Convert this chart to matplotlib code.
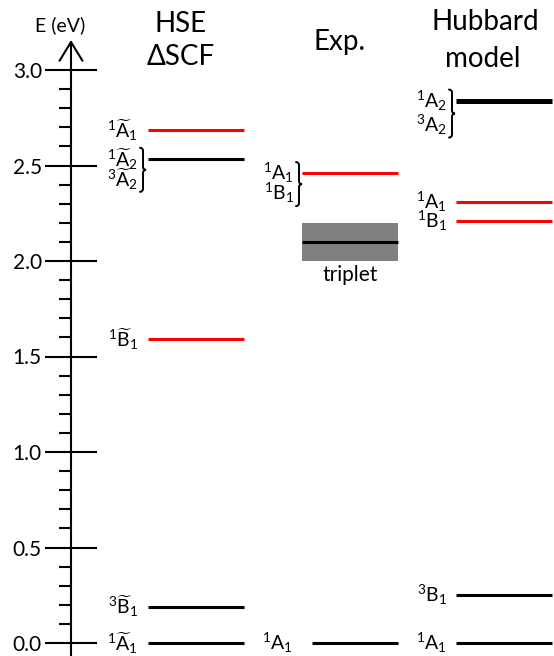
import matplotlib
matplotlib.use('Agg')
import matplotlib.pyplot as plt
from matplotlib import transforms
from matplotlib.patches import Rectangle, PathPatch
from matplotlib.path import Path
import numpy as np

plt.rcParams['font.family'] = ['Lato', 'DejaVu Sans']
plt.rcParams['mathtext.fontset'] = 'custom'
plt.rcParams['mathtext.rm'] = 'Lato'
plt.rcParams['mathtext.it'] = 'Lato:italic'
plt.rcParams['mathtext.bf'] = 'Lato:bold'

# level energies (eV)
hse_levels = [0.0, 0.19, 1.59, 2.535, 2.685]
hse_colors = ['black', 'black', 'red', 'black', 'red']
hse_labels = [[r'${}^{1}\widetilde{\mathrm{A}}_{1}$'],
              [r'${}^{3}\widetilde{\mathrm{B}}_{1}$'],
              [r'${}^{1}\widetilde{\mathrm{B}}_{1}$'],
              [r'${}^{1}\widetilde{\mathrm{A}}_{2}$', r'${}^{3}\widetilde{\mathrm{A}}_{2}$'],
              [r'${}^{1}\widetilde{\mathrm{A}}_{1}$']]

exp_levels = [0.0, 2.46]
exp_colors = ['black', 'red']
exp_labels = [[r'${}^{1}\mathrm{A}_{1}$'],
              [r'${}^{1}\mathrm{A}_{1}$', r'${}^{1}\mathrm{B}_{1}$']]
triplet_center = 2.10
triplet_range = (2.00, 2.20)

hub_levels = [0.0, 0.25, 2.21, 2.31, 2.84]
hub_colors = ['black', 'black', 'red', 'red', 'black']
hub_widths = [2.2, 2.2, 2.2, 2.2, 3.6]
hub_labels = [[r'${}^{1}\mathrm{A}_{1}$'],
              [r'${}^{3}\mathrm{B}_{1}$'],
              [r'${}^{1}\mathrm{B}_{1}$'],
              [r'${}^{1}\mathrm{A}_{1}$'],
              [r'${}^{1}\mathrm{A}_{2}$', r'${}^{3}\mathrm{A}_{2}$']]

W, H = 554, 656
ppe = 191.0  # pixels per eV
top = 3.0 + 70 / ppe  # y value at top edge of the figure
fig = plt.figure(figsize=(W / 100, H / 100), dpi=100)
ax = fig.add_axes([0, 0, 1, 1])
ax.set_xlim(0, W)
ax.set_ylim(-13 / ppe, top)

# axis
for s in ['top', 'right', 'bottom']:
    ax.spines[s].set_visible(False)
ax.spines['left'].set_position(('data', 71))
ax.spines['left'].set_linewidth(1.5)
ax.spines['left'].set_bounds(-13 / ppe, 3.0)
ax.set_xticks([])
ax.set_yticks(np.arange(0, 3.01, 0.5))
ax.set_yticklabels(['%.1f' % v for v in np.arange(0, 3.01, 0.5)], fontsize=15)
ax.set_yticks(np.arange(0, 3.01, 0.1), minor=True)
ax.tick_params(axis='y', which='major', direction='inout', length=38, width=1.5, pad=2)
ax.tick_params(axis='y', which='minor', direction='out', length=9, width=1.5)
ax.annotate('', xy=(71, 3.0 + 30 / ppe), xytext=(71, 2.99),
            arrowprops=dict(arrowstyle='->,head_length=0.9,head_width=0.55',
                            lw=1.5, color='black', mutation_scale=15,
                            shrinkA=0, shrinkB=0))
ax.text(60, top - 31 / ppe, 'E (eV)', ha='center', va='baseline', fontsize=14)


def brace(x, yc, w, h):
    # curly brace "}" drawn as a stroked path, w and h in pixels
    pts = [(0, h / 2), (w / 2, h / 2), (w / 2, h / 2 - w / 2),
           (w / 2, w / 2), (w / 2, 0), (w, 0),
           (w / 2, 0), (w / 2, -w / 2),
           (w / 2, -h / 2 + w / 2), (w / 2, -h / 2), (0, -h / 2)]
    codes = [Path.MOVETO, Path.CURVE3, Path.CURVE3,
             Path.LINETO, Path.CURVE3, Path.CURVE3,
             Path.CURVE3, Path.CURVE3,
             Path.LINETO, Path.CURVE3, Path.CURVE3]
    verts = [(x + px, yc + py / ppe) for px, py in pts]
    ax.add_patch(PathPatch(Path(verts, codes), facecolor='none',
                           edgecolor='black', lw=1.4, capstyle='round'))


def draw_column(x0, x1, levels, colors, labels, widths, gap, step):
    for y, c, labs, lw in zip(levels, colors, labels, widths):
        ax.plot([x0, x1], [y, y], color=c, lw=lw, solid_capstyle='butt')
        for i, lab in enumerate(labs):
            tr = transforms.offset_copy(ax.transData, fig=fig, x=0, y=-i * step, units='dots')
            ax.text(x0 - gap, y, lab, transform=tr, ha='right', va='center', fontsize=14)
        if len(labs) == 2:
            brace(x0 - gap + 2, y - (step / 2 + 1) / ppe, 6, step + 24)


draw_column(148, 244, hse_levels, hse_colors, hse_labels, [2.2] * 5, 10, 20)
ax.add_patch(Rectangle((302, triplet_range[0]), 96, triplet_range[1] - triplet_range[0],
                       facecolor='#808080', edgecolor='none', zorder=1))
draw_column(302, 398, exp_levels[1:], exp_colors[1:], exp_labels[1:], [2.2], 8, 20)
ax.plot([302, 398], [triplet_center] * 2, color='black', lw=2.2, solid_capstyle='butt')
draw_column(312, 398, exp_levels[:1], exp_colors[:1], exp_labels[:1], [2.2], 19, 20)
ax.text(350, triplet_range[0] - 20 / ppe, 'triplet', ha='center', va='baseline', fontsize=15)
draw_column(456, 552, hub_levels, hub_colors, hub_labels, hub_widths, 9, 24)

# column titles
ax.text(181, top - 32 / ppe, 'HSE', ha='center', va='baseline', fontsize=20)
ax.text(181, top - 65 / ppe, 'ΔSCF', ha='center', va='baseline', fontsize=20)
ax.text(340, top - 50 / ppe, 'Exp.', ha='center', va='baseline', fontsize=20)
ax.text(485, top - 30 / ppe, 'Hubbard', ha='center', va='baseline', fontsize=20)
ax.text(483, top - 67 / ppe, 'model', ha='center', va='baseline', fontsize=20)

fig.savefig('out.png', dpi=100)
